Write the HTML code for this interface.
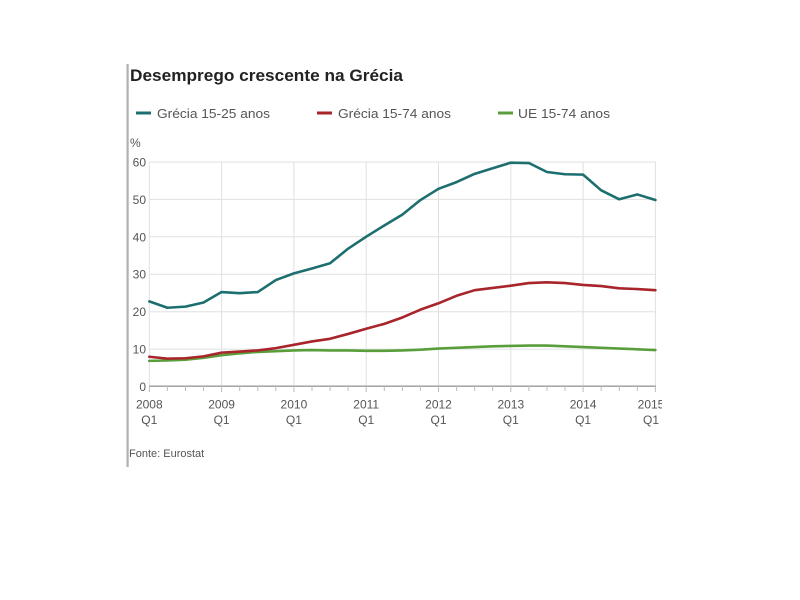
<!DOCTYPE html>
<html>
<head>
<meta charset="utf-8">
<style>
  html,body{margin:0;padding:0;background:#fff;}
  svg{display:block;}
  text{font-family:"Liberation Sans",Arial,sans-serif;}
</style>
</head>
<body>
<svg width="800" height="600" viewBox="0 0 800 600" xmlns="http://www.w3.org/2000/svg">
  <defs>
    <clipPath id="clipR"><rect x="0" y="0" width="662" height="600"/></clipPath>
  </defs>
  <rect x="0" y="0" width="800" height="600" fill="#fff"/>
  <!-- left bar -->
  <rect x="126.5" y="64" width="2.2" height="403" fill="#b0b0b0"/>

  <!-- title -->
  <text x="130" y="81" font-size="17" font-weight="bold" fill="#222" textLength="273" lengthAdjust="spacingAndGlyphs">Desemprego crescente na Grécia</text>

  <!-- legend -->
  <rect x="136" y="111.5" width="15" height="3" fill="#1d6f6f"/>
  <text x="157" y="118" font-size="13" fill="#555" textLength="113" lengthAdjust="spacingAndGlyphs">Grécia 15-25 anos</text>
  <rect x="317" y="111.5" width="15" height="3" fill="#a8252c"/>
  <text x="338" y="118" font-size="13" fill="#555" textLength="113" lengthAdjust="spacingAndGlyphs">Grécia 15-74 anos</text>
  <rect x="498" y="111.5" width="15" height="3" fill="#5a9e3c"/>
  <text x="518" y="118" font-size="13" fill="#555" textLength="92" lengthAdjust="spacingAndGlyphs">UE 15-74 anos</text>

  <!-- % -->
  <text x="130" y="147" font-size="12" fill="#555">%</text>

  <!-- horizontal grid -->
  <g stroke="#e0e0e0" stroke-width="1">
    <line x1="149" y1="162" x2="656" y2="162"/>
    <line x1="149" y1="199.4" x2="656" y2="199.4"/>
    <line x1="149" y1="236.8" x2="656" y2="236.8"/>
    <line x1="149" y1="274.2" x2="656" y2="274.2"/>
    <line x1="149" y1="311.7" x2="656" y2="311.7"/>
    <line x1="149" y1="349.1" x2="656" y2="349.1"/>
  </g>
  <!-- vertical grid -->
  <g stroke="#e0e0e0" stroke-width="1">
    <line x1="149.3" y1="162" x2="149.3" y2="386"/>
    <line x1="221.6" y1="162" x2="221.6" y2="386"/>
    <line x1="293.9" y1="162" x2="293.9" y2="386"/>
    <line x1="366.2" y1="162" x2="366.2" y2="386"/>
    <line x1="438.5" y1="162" x2="438.5" y2="386"/>
    <line x1="510.8" y1="162" x2="510.8" y2="386"/>
    <line x1="583.1" y1="162" x2="583.1" y2="386"/>
    <line x1="655.4" y1="162" x2="655.4" y2="386"/>
  </g>

  <!-- y labels -->
  <g font-size="12" fill="#555" text-anchor="end">
    <text x="146" y="166.5">60</text>
    <text x="146" y="204">50</text>
    <text x="146" y="241.3">40</text>
    <text x="146" y="278.7">30</text>
    <text x="146" y="316.2">20</text>
    <text x="146" y="353.6">10</text>
    <text x="146" y="391">0</text>
  </g>

  <!-- x axis -->
  <line x1="149" y1="386.2" x2="656" y2="386.2" stroke="#999" stroke-width="1.3"/>
  <g stroke="#bbb" stroke-width="1">
    <line x1="149.3" y1="386" x2="149.3" y2="392"/>
    <line x1="167.4" y1="386" x2="167.4" y2="391"/>
    <line x1="185.5" y1="386" x2="185.5" y2="391"/>
    <line x1="203.5" y1="386" x2="203.5" y2="391"/>
    <line x1="221.6" y1="386" x2="221.6" y2="392"/>
    <line x1="239.7" y1="386" x2="239.7" y2="391"/>
    <line x1="257.8" y1="386" x2="257.8" y2="391"/>
    <line x1="275.8" y1="386" x2="275.8" y2="391"/>
    <line x1="293.9" y1="386" x2="293.9" y2="392"/>
    <line x1="312.0" y1="386" x2="312.0" y2="391"/>
    <line x1="330.1" y1="386" x2="330.1" y2="391"/>
    <line x1="348.1" y1="386" x2="348.1" y2="391"/>
    <line x1="366.2" y1="386" x2="366.2" y2="392"/>
    <line x1="384.3" y1="386" x2="384.3" y2="391"/>
    <line x1="402.4" y1="386" x2="402.4" y2="391"/>
    <line x1="420.4" y1="386" x2="420.4" y2="391"/>
    <line x1="438.5" y1="386" x2="438.5" y2="392"/>
    <line x1="456.6" y1="386" x2="456.6" y2="391"/>
    <line x1="474.7" y1="386" x2="474.7" y2="391"/>
    <line x1="492.7" y1="386" x2="492.7" y2="391"/>
    <line x1="510.8" y1="386" x2="510.8" y2="392"/>
    <line x1="528.9" y1="386" x2="528.9" y2="391"/>
    <line x1="547.0" y1="386" x2="547.0" y2="391"/>
    <line x1="565.0" y1="386" x2="565.0" y2="391"/>
    <line x1="583.1" y1="386" x2="583.1" y2="392"/>
    <line x1="601.2" y1="386" x2="601.2" y2="391"/>
    <line x1="619.3" y1="386" x2="619.3" y2="391"/>
    <line x1="637.3" y1="386" x2="637.3" y2="391"/>
    <line x1="655.4" y1="386" x2="655.4" y2="392"/>
  </g>

  <!-- x labels -->
  <g font-size="12" fill="#555" text-anchor="middle" clip-path="url(#clipR)">
    <text x="149.3" y="408.5">2008</text><text x="149.3" y="424">Q1</text>
    <text x="221.6" y="408.5">2009</text><text x="221.6" y="424">Q1</text>
    <text x="293.9" y="408.5">2010</text><text x="293.9" y="424">Q1</text>
    <text x="366.2" y="408.5">2011</text><text x="366.2" y="424">Q1</text>
    <text x="438.5" y="408.5">2012</text><text x="438.5" y="424">Q1</text>
    <text x="510.8" y="408.5">2013</text><text x="510.8" y="424">Q1</text>
    <text x="583.1" y="408.5">2014</text><text x="583.1" y="424">Q1</text>
    <text x="651" y="408.5">2015</text><text x="651" y="424">Q1</text>
  </g>

  <!-- series -->
  <g transform="translate(149.3,386.3) scale(18.075,-3.74)" fill="none" stroke-linejoin="round" stroke-linecap="round">
    <polyline vector-effect="non-scaling-stroke" stroke="#5a9e3c" stroke-width="2.6"
      points="0,6.8 1,6.9 2,7.1 3,7.6 4,8.3 5,8.8 6,9.2 7,9.4 8,9.6 9,9.7 10,9.6 11,9.6 12,9.5 13,9.5 14,9.6 15,9.8 16,10.1 17,10.3 18,10.5 19,10.7 20,10.8 21,10.9 22,10.9 23,10.7 24,10.5 25,10.3 26,10.1 27,9.9 28,9.7"/>
    <polyline vector-effect="non-scaling-stroke" stroke="#a8252c" stroke-width="2.6"
      points="0,7.9 1,7.4 2,7.5 3,8.0 4,9.0 5,9.3 6,9.6 7,10.2 8,11.1 9,12.0 10,12.7 11,14.0 12,15.4 13,16.7 14,18.4 15,20.5 16,22.2 17,24.2 18,25.7 19,26.3 20,26.9 21,27.6 22,27.8 23,27.6 24,27.1 25,26.8 26,26.2 27,26.0 28,25.7"/>
    <polyline vector-effect="non-scaling-stroke" stroke="#1d6f6f" stroke-width="2.6"
      points="0,22.7 1,21 2,21.3 3,22.4 4,25.2 5,24.9 6,25.2 7,28.4 8,30.2 9,31.5 10,32.9 11,36.8 12,40 13,43 14,45.9 15,49.8 16,52.8 17,54.6 18,56.8 19,58.3 20,59.8 21,59.7 22,57.3 23,56.7 24,56.6 25,52.4 26,50 27,51.3 28,49.8"/>
  </g>

  <!-- source -->
  <text x="129" y="457" font-size="11" fill="#555">Fonte: Eurostat</text>
</svg>
</body>
</html>
